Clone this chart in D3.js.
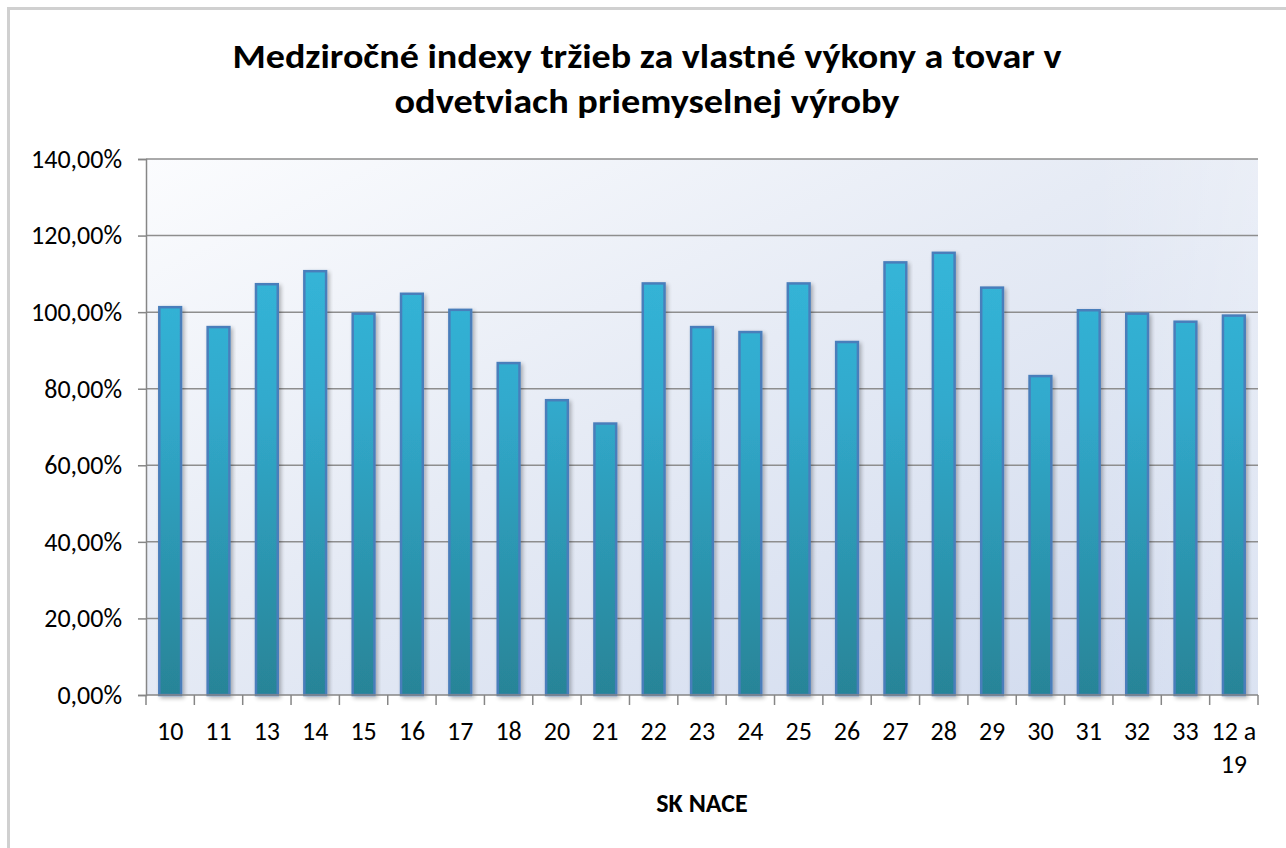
<!DOCTYPE html>
<html><head><meta charset="utf-8">
<script src="https://cdn.jsdelivr.net/npm/d3@7"></script>
<style>html,body{margin:0;padding:0;background:#fff;}svg{display:block;}</style>
</head><body>
<script>
const categories = ["10","11","13","14","15","16","17","18","20","21","22","23","24","25","26","27","28","29","30","31","32","33","12 a 19"];
const values = [101.3,96.1,107.3,110.7,99.6,104.8,100.6,86.7,77.0,70.9,107.5,96.1,94.8,107.5,92.2,113.0,115.5,106.4,83.3,100.5,99.6,97.5,99.1];
const yTicks = [0,20,40,60,80,100,120,140];
const titleLines = ["Medziročné indexy tržieb za vlastné výkony a tovar v","odvetviach priemyselnej výroby"];
const xTitle = "SK NACE";

const W = 1286, H = 848;
const m = {left:146, right:1258, top:159, bottom:695};
const font = "Calibri, Carlito, 'Open Sans', sans-serif";

const svg = d3.select("body").append("svg").attr("width", W).attr("height", H);
const defs = svg.append("defs");

const bg = defs.append("linearGradient").attr("id","bg").attr("x1","0").attr("y1","0").attr("x2","1").attr("y2","1");
bg.append("stop").attr("offset","0").attr("stop-color","#fbfcfe");
bg.append("stop").attr("offset","0.45").attr("stop-color","#e6ebf5");
bg.append("stop").attr("offset","1").attr("stop-color","#d0daee");

const bg2 = defs.append("linearGradient").attr("id","bgR").attr("x1","0").attr("y1","0").attr("x2","1").attr("y2","0");
bg2.append("stop").attr("offset","0.85").attr("stop-color","#ffffff").attr("stop-opacity",0);
bg2.append("stop").attr("offset","1").attr("stop-color","#ffffff").attr("stop-opacity",0.25);

const bar = defs.append("linearGradient").attr("id","bar").attr("x1","0").attr("y1","0").attr("x2","0").attr("y2","1").attr("gradientUnits","userSpaceOnUse")
  .attr("y1", m.top).attr("y2", m.bottom);
bar.append("stop").attr("offset","0").attr("stop-color","#37bde0");
bar.append("stop").attr("offset","0.45").attr("stop-color","#31aacd");
bar.append("stop").attr("offset","1").attr("stop-color","#288497");

const sh = defs.append("filter").attr("id","sh").attr("x","-30%").attr("y","-10%").attr("width","160%").attr("height","120%");
sh.append("feGaussianBlur").attr("in","SourceAlpha").attr("stdDeviation",2);
sh.append("feOffset").attr("dx",1.5).attr("dy",1.5).attr("result","b");
sh.append("feComponentTransfer").append("feFuncA").attr("type","linear").attr("slope",0.3);
const mg = sh.append("feMerge"); mg.append("feMergeNode"); mg.append("feMergeNode").attr("in","SourceGraphic");

// chart frame
svg.append("rect").attr("x",8.5).attr("y",8.5).attr("width",W+20).attr("height",H+20)
  .attr("fill","#fff").attr("stroke","#d0d0d0").attr("stroke-width",3);

const x = d3.scaleBand().domain(categories).range([m.left, m.right]).paddingInner(0.55).paddingOuter(0.275);
const y = d3.scaleLinear().domain([0,140]).range([m.bottom, m.top]);

// plot background
svg.append("rect").attr("x",m.left).attr("y",m.top).attr("width",m.right-m.left).attr("height",m.bottom-m.top).attr("fill","url(#bg)");
svg.append("rect").attr("x",m.left).attr("y",m.top).attr("width",m.right-m.left).attr("height",m.bottom-m.top).attr("fill","url(#bgR)");

// gridlines
svg.append("g").selectAll("line").data(yTicks.filter(d=>d>0)).join("line")
  .attr("x1",m.left).attr("x2",m.right).attr("y1",d=>y(d)).attr("y2",d=>y(d))
  .attr("stroke","#8e8e8e").attr("stroke-width",1.5);

// y axis
const yAxis = d3.axisLeft(y).tickValues(yTicks).tickSize(8).tickPadding(10)
  .tickFormat(d => d3.format(".2f")(d).replace(".", ",") + "%");
const gy = svg.append("g").attr("transform",`translate(${m.left},0)`).call(yAxis);
gy.select(".domain").attr("stroke","#868686").attr("stroke-width",1.5);
gy.selectAll(".tick line").attr("stroke","#868686").attr("stroke-width",1.5);
gy.selectAll(".tick text").attr("font-family",font).attr("font-size",26).attr("fill","#000").attr("dx",-6);

// bars
svg.append("g").selectAll("rect").data(values).join("rect")
  .attr("x",(d,i)=>x(categories[i])).attr("width",x.bandwidth())
  .attr("y",d=>y(d)).attr("height",d=>y(0)-y(d))
  .attr("fill","url(#bar)").attr("stroke","#4a7ebb").attr("stroke-width",2.5)
  .attr("filter","url(#sh)");

// x axis
const step = x.step();
const gx = svg.append("g").attr("transform",`translate(0,${m.bottom})`);
gx.append("line").attr("x1",m.left).attr("x2",m.right).attr("stroke","#868686").attr("stroke-width",1.5);
const bounds = d3.range(categories.length+1).map(i => m.left + i*step);
gx.selectAll("line.t").data(bounds).join("line").attr("class","t")
  .attr("x1",d=>d).attr("x2",d=>d).attr("y1",0).attr("y2",10)
  .attr("stroke","#868686").attr("stroke-width",1.5);
const lbl = gx.selectAll("text.l").data(categories).join("text").attr("class","l")
  .attr("x",d=>x(d)+x.bandwidth()/2).attr("y",45)
  .attr("text-anchor","middle").attr("font-family",font).attr("font-size",26).attr("fill","#000");
lbl.each(function(d){
  const t = d3.select(this);
  const parts = d === "12 a 19" ? ["12 a","19"] : [d];
  parts.forEach((p,k)=>t.append("tspan").attr("x",+t.attr("x")).attr("dy",k?33:0).text(p));
});

// axis title
svg.append("text").attr("x",(m.left+m.right)/2).attr("y",812).attr("text-anchor","middle")
  .attr("font-family",font).attr("font-weight","bold").attr("font-size",26).attr("fill","#000").text(xTitle);

// chart title
const tl = [[647,68,829],[647,113,505]];
svg.append("g").selectAll("text").data(titleLines).join("text")
  .attr("x",(d,i)=>tl[i][0]).attr("y",(d,i)=>tl[i][1]).attr("text-anchor","middle")
  .attr("font-family",font).attr("font-weight","bold").attr("font-size",35).attr("fill","#000")
  .attr("textLength",(d,i)=>tl[i][2]).attr("lengthAdjust","spacingAndGlyphs")
  .text(d=>d);
</script>
</body></html>
